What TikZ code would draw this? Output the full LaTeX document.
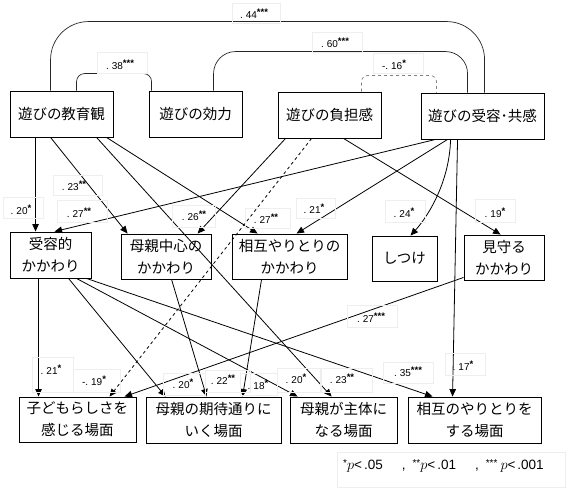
\documentclass[tikz,border=0pt]{standalone}
\usepackage{fontspec}
\setmainfont{Liberation Sans}
\newfontfamily\cjk{Noto Sans CJK JP}
\usetikzlibrary{arrows.meta,calc}
\newcommand{\st}[1]{\raisebox{2.6pt}{\fontsize{9.5}{9}\selectfont\bfseries #1}}
\newcommand{\lv}[2]{.\kern3pt#1\st{#2}}
\newcommand{\sst}[1]{\raisebox{3.5pt}{\fontsize{10}{10}\selectfont #1}}
\begin{document}
\begin{tikzpicture}[x=1pt,y=-1pt,
  box/.style={draw=black, line width=0.9pt, inner sep=0pt, align=center, font=\cjk\fontsize{14.5}{22}\selectfont},
  arr/.style={draw=black, line width=0.8pt, -{Triangle[length=7.5pt,width=6.5pt]}},
  corr/.style={draw=black!85, line width=0.7pt},
  labbox/.style={draw=gray!13, line width=0.6pt},
  labt/.style={inner sep=0pt, font=\fontsize{10}{10}\selectfont},
]
\useasboundingbox (0,0) rectangle (568,490);

% boxes
\node[box, minimum width=103pt, minimum height=46pt] (A) at (61.5,114) {遊びの教育観};
\node[box, minimum width=93pt, minimum height=46pt] (B) at (195.5,114) {遊びの効力};
\node[box, minimum width=103pt, minimum height=46pt] (C) at (329.5,115) {遊びの負担感};
\node[box, minimum width=123pt, minimum height=46pt] (D) at (482.5,116) {遊びの受容･共感};
\node[box, minimum width=81pt, minimum height=46pt] (E) at (50.5,255) {受容的\\かかわり};
\node[box, minimum width=90pt, minimum height=45pt] (F) at (166,256.5) {母親中心の\\かかわり};
\node[box, minimum width=115pt, minimum height=45pt] (G) at (289.5,256.5) {相互やりとりの\\かかわり};
\node[box, minimum width=65pt, minimum height=45pt] (H) at (404.5,258.5) {しつけ};
\node[box, minimum width=80pt, minimum height=45pt] (I) at (504,257.5) {見守る\\かかわり};
\node[box, minimum width=117pt, minimum height=45pt] (J) at (77.5,419.5) {子どもらしさを\\感じる場面};
\node[box, minimum width=135pt, minimum height=46pt] (K) at (213.5,420) {母親の期待通りに\\いく場面};
\node[box, minimum width=107pt, minimum height=46pt] (L) at (343.5,420) {母親が主体に\\なる場面};
\node[box, minimum width=133pt, minimum height=46pt] (M) at (474.5,420) {相互のやりとりを\\する場面};

% correlations
\draw[corr, rounded corners=38pt] ($(A.north west)+(41,0)$) -- ++(0,-69) -| ($(D.north west)+(64,0)$);
\draw[corr, rounded corners=22pt] ($(B.north west)+(65,0)$) -- ++(0,-39) -| ($(D.north west)+(47,0)$);
\draw[corr, rounded corners=8pt] ($(A.north west)+(67,0)$) -- ++(0,-17) -| ($(B.north west)+(3,0)$);
\draw[corr, draw=gray, dashed, rounded corners=6pt] ($(C.north west)+(84,0)$) -- ++(0,-16) -| ($(D.north west)+(16,0)$);

% paths
\draw[arr] ($(A.south west)+(26,0)$) -- ($(E.north west)+(26,0)$);
\draw[arr] ($(A.south west)+(41,0)$) -- ($(F.north west)+(7,0)$);
\draw[arr] ($(A.south west)+(97,0)$) -- ($(G.north west)+(26,0)$);
\draw[arr] ($(A.south west)+(87,0)$) -- ($(L.north west)+(42,0)$);
\draw[arr] ($(C.south west)+(8,0)$) -- ($(F.north west)+(77,0)$);
\draw[arr, dashed] ($(C.south west)+(34,0)$) -- ($(J.north west)+(91,0)$);
\draw[arr] ($(C.south west)+(66,0)$) -- ($(I.north west)+(37,0)$);
\draw[arr] ($(D.south west)+(15,0)$) -- ($(E.north west)+(45,0)$);
\draw[arr] ($(D.south west)+(27,0)$) -- ($(G.north west)+(65,0)$);
\draw[arr] ($(D.south west)+(30,0)$) .. controls ($(D.south west)+(29,41)$) and ($(H.north west)+(58,-21)$) .. ($(H.north west)+(39,0)$);
\draw[arr] ($(D.south west)+(37,0)$) -- ($(M.north west)+(45,0)$);
\draw[arr] ($(E.south west)+(29,0)$) -- ($(J.north west)+(20,0)$);
\draw[arr] ($(E.south west)+(59,0)$) -- ($(K.north west)+(20,0)$);
\draw[arr] ($(E.south west)+(67,0)$) -- ($(L.north west)+(8,0)$);
\draw[arr] ($(E.south west)+(77,0)$) -- ($(M.north west)+(25,0)$);
\draw[arr] ($(F.south west)+(51,0)$) -- ($(K.north west)+(61,0)$);
\draw[arr] ($(G.south west)+(30,0)$) -- ($(K.north west)+(97,0)$);
\draw[arr] ($(I.south west)+(0,-3)$) -- ($(J.north west)+(106,0)$);

% coefficient labels
\draw[labbox] (232,3) rectangle (280,23);
\node[labt] (l44) at (254,14) {\lv{44}{***}};
\draw[labbox] (312,32) rectangle (362,52);
\node[labt] (l60) at (335,43) {\lv{60}{***}};
\draw[labbox] (97,52) rectangle (147,73);
\node[labt] (l38) at (120,65) {\lv{38}{***}};
\draw[labbox] (373,53) rectangle (423,73);
\node[labt] (l16) at (394,65) {-\lv{16}{*}};
\draw[labbox] (53,175) rectangle (102,195);
\node[labt] (l23a) at (74,186) {\lv{23}{**}};
\draw[labbox] (3,197) rectangle (43,218);
\node[labt] (l20a) at (21,210) {\lv{20}{*}};
\draw[labbox] (57,200) rectangle (107,222);
\node[labt] (l27a) at (79,213) {\lv{27}{**}};
\draw[labbox] (172,205) rectangle (215,227);
\node[labt] (l26) at (194,216) {\lv{26}{**}};
\draw[labbox] (245,208) rectangle (290,228);
\node[labt] (l27b) at (266,219) {\lv{27}{**}};
\draw[labbox] (296,198) rectangle (335,218);
\node[labt] (l21a) at (314,209) {\lv{21}{*}};
\draw[labbox] (385,200) rectangle (425,222);
\node[labt] (l24) at (404,213) {\lv{24}{*}};
\draw[labbox] (475,199) rectangle (515,222);
\node[labt] (l19a) at (495,213) {\lv{19}{*}};
\draw[labbox] (347,305) rectangle (397,327);
\node[labt] (l27c) at (371,318) {\lv{27}{***}};
\draw[labbox] (32,357) rectangle (73,392);
\node[labt] (l21b) at (51,370) {\lv{21}{*}};
\draw[labbox] (73,369) rectangle (120,392);
\node[labt] (l19b) at (94,381) {-\lv{19}{*}};
\draw[labbox] (163,373) rectangle (205,395);
\node[labt] (l20b) at (183,384) {\lv{20}{*}};
\draw[labbox] (205,370) rectangle (250,392);
\node[labt] (l22) at (223,380) {\lv{22}{**}};
\draw[labbox] (240,373) rectangle (277,395);
\node[labt] (l18) at (258,385) {\lv{18}{*}};
\draw[labbox] (277,368) rectangle (320,392);
\node[labt] (l20c) at (296,379) {\lv{20}{*}};
\draw[labbox] (321,368) rectangle (372,392);
\node[labt] (l23b) at (342,379) {\lv{23}{**}};
\draw[labbox] (383,362) rectangle (433,383);
\node[labt] (l35) at (408,372) {\lv{35}{***}};
\draw[labbox] (445,353) rectangle (485,375);
\node[labt] (l17) at (463,366) {\lv{17}{*}};

% legend
\draw[labbox] (337,452) rectangle (565,487);
\node[labt, anchor=west, font=\fontsize{13.5}{14}\selectfont] (leg) at (343,466) {\sst{*}$p$<\kern2pt.05\hspace{19pt},\hspace{7pt}\sst{**}$p$<\kern2pt.01\hspace{19pt},\hspace{7pt}\sst{***}\kern3pt$p$<\kern2pt.001};
\end{tikzpicture}
\end{document}
